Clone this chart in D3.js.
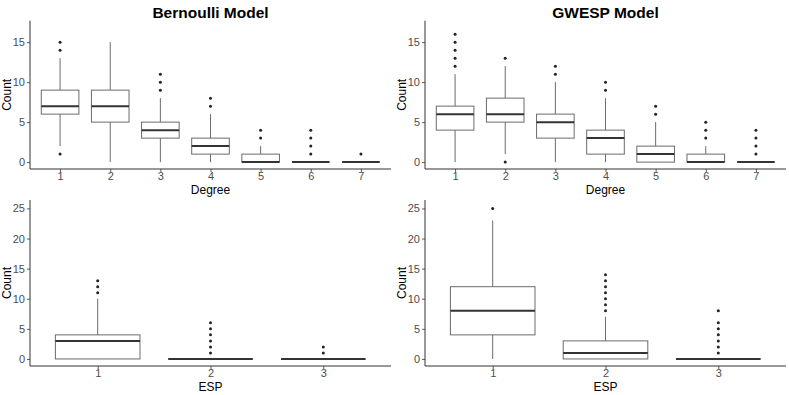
<!DOCTYPE html>
<html>
<head>
<meta charset="utf-8">
<script src="https://cdn.jsdelivr.net/npm/d3@7"></script>
<style>
  html, body { margin: 0; padding: 0; background: #fff; }
  svg { display: block; }
  text { font-family: "Liberation Sans", Arial, Helvetica, sans-serif; }
</style>
</head>
<body>
<svg id="chart" width="789" height="395"></svg>
<script>
// ---- Data (five-number summaries + outliers) ----
const degreeCategories = ["1", "2", "3", "4", "5", "6", "7"];
const espCategories = ["1", "2", "3"];

// Bernoulli model, degree distribution
const bernDegQ1      = [6, 5, 3, 1, 0, 0, 0];
const bernDegMedian  = [7, 7, 4, 2, 0, 0, 0];
const bernDegQ3      = [9, 9, 5, 3, 1, 0, 0];
const bernDegLow     = [2, 0, 0, 0, 0, 0, 0];
const bernDegHigh    = [13, 15, 8, 6, 2, 0, 0];
const bernDegOutliers = [[1, 14, 15], [], [9, 10, 11], [7, 8], [3, 4], [1, 2, 3, 4], [1]];

// GWESP model, degree distribution
const gwespDegQ1     = [4, 5, 3, 1, 0, 0, 0];
const gwespDegMedian = [6, 6, 5, 3, 1, 0, 0];
const gwespDegQ3     = [7, 8, 6, 4, 2, 1, 0];
const gwespDegLow    = [0, 1, 0, 0, 0, 0, 0];
const gwespDegHigh   = [11, 12, 10, 8, 5, 2, 0];
const gwespDegOutliers = [[12, 13, 14, 15, 16], [0, 13], [11, 12], [9, 10], [6, 7], [3, 4, 5], [1, 2, 3, 4]];

// Bernoulli model, ESP distribution
const bernEspQ1      = [0, 0, 0];
const bernEspMedian  = [3, 0, 0];
const bernEspQ3      = [4, 0, 0];
const bernEspLow     = [0, 0, 0];
const bernEspHigh    = [10, 0, 0];
const bernEspOutliers = [[11, 12, 13], [1, 2, 3, 4, 5, 6], [1, 2]];

// GWESP model, ESP distribution
const gwespEspQ1     = [4, 0, 0];
const gwespEspMedian = [8, 1, 0];
const gwespEspQ3     = [12, 3, 0];
const gwespEspLow    = [0, 0, 0];
const gwespEspHigh   = [23, 7, 0];
const gwespEspOutliers = [[25], [8, 9, 10, 11, 12, 13, 14], [1, 2, 3, 4, 5, 6, 8]];

const degreeTicks = [0, 5, 10, 15];
const espTicks = [0, 5, 10, 15, 20, 25];

const titles = ["Bernoulli Model", "GWESP Model"];

// ---- Build panel tables ----
function build(cats, q1, med, q3, lo, hi, out) {
  return cats.map((c, i) => ({cat: c, q1: q1[i], med: med[i], q3: q3[i], lo: lo[i], hi: hi[i], out: out[i]}));
}

const panels = [
  {data: build(degreeCategories, bernDegQ1, bernDegMedian, bernDegQ3, bernDegLow, bernDegHigh, bernDegOutliers),
   cats: degreeCategories, ticks: degreeTicks, domain: [-0.86, 17.68], xLabel: "Degree", title: titles[0],
   x0: 30, x1: 391, y0: 20.7, y1: 169},
  {data: build(degreeCategories, gwespDegQ1, gwespDegMedian, gwespDegQ3, gwespDegLow, gwespDegHigh, gwespDegOutliers),
   cats: degreeCategories, ticks: degreeTicks, domain: [-0.86, 17.68], xLabel: "Degree", title: titles[1],
   x0: 425, x1: 786, y0: 20.7, y1: 169},
  {data: build(espCategories, bernEspQ1, bernEspMedian, bernEspQ3, bernEspLow, bernEspHigh, bernEspOutliers),
   cats: espCategories, ticks: espTicks, domain: [-1.17, 26.4], xLabel: "ESP", title: null,
   x0: 30, x1: 391, y0: 200, y1: 366},
  {data: build(espCategories, gwespEspQ1, gwespEspMedian, gwespEspQ3, gwespEspLow, gwespEspHigh, gwespEspOutliers),
   cats: espCategories, ticks: espTicks, domain: [-1.17, 26.4], xLabel: "ESP", title: null,
   x0: 425, x1: 786, y0: 200, y1: 366}
];

const svg = d3.select("#chart");
const axisColor = "#333333";
const tickTextColor = "#4D4D4D";

panels.forEach(p => {
  const g = svg.append("g");
  // discrete scale with ggplot-like 0.6 expansion on each side
  const n = p.cats.length;
  const lin = d3.scaleLinear().domain([0.4, n + 0.6]).range([p.x0, p.x1]);
  const x = d3.scalePoint().domain(p.cats).range([lin(1), lin(n)]);
  const step = lin(2) - lin(1);
  const bw = 0.75 * step;
  const y = d3.scaleLinear().domain(p.domain).range([p.y1, p.y0]);

  // boxes
  const box = g.selectAll(".box").data(p.data).enter().append("g");
  box.append("line")
    .attr("x1", d => x(d.cat)).attr("x2", d => x(d.cat))
    .attr("y1", d => y(d.q3)).attr("y2", d => y(d.hi))
    .attr("stroke", "#6b6b6b").attr("stroke-width", 1);
  box.append("line")
    .attr("x1", d => x(d.cat)).attr("x2", d => x(d.cat))
    .attr("y1", d => y(d.q1)).attr("y2", d => y(d.lo))
    .attr("stroke", "#6b6b6b").attr("stroke-width", 1);
  box.append("rect")
    .attr("x", d => x(d.cat) - bw / 2).attr("width", bw)
    .attr("y", d => y(d.q3)).attr("height", d => Math.max(0, y(d.q1) - y(d.q3)))
    .attr("fill", "#fff").attr("stroke", "#6b6b6b").attr("stroke-width", 1);
  box.append("line")
    .attr("x1", d => x(d.cat) - bw / 2).attr("x2", d => x(d.cat) + bw / 2)
    .attr("y1", d => y(d.med)).attr("y2", d => y(d.med))
    .attr("stroke", "#333333").attr("stroke-width", 2);
  box.each(function(d) {
    d3.select(this).selectAll("circle").data(d.out).enter().append("circle")
      .attr("cx", x(d.cat)).attr("cy", v => y(v)).attr("r", 1.5).attr("fill", "#222");
  });

  // y axis
  const yAxis = d3.axisLeft(y).tickValues(p.ticks).tickSize(3).tickPadding(2).tickSizeOuter(0);
  const ya = g.append("g").attr("transform", `translate(${p.x0},0)`).call(yAxis);
  ya.select(".domain").attr("stroke", axisColor).attr("stroke-width", 1).attr("d", `M0,${p.y0}V${p.y1}`);
  ya.selectAll(".tick line").attr("stroke", axisColor).attr("stroke-width", 0.8);
  ya.selectAll(".tick text").attr("fill", tickTextColor).attr("font-size", 11)
    .attr("font-family", "Liberation Sans, Arial, sans-serif");

  // x axis
  const xAxis = d3.axisBottom(x).tickSize(3).tickPadding(0.5).tickSizeOuter(0);
  const xa = g.append("g").attr("transform", `translate(0,${p.y1})`).call(xAxis);
  xa.select(".domain").attr("stroke", axisColor).attr("stroke-width", 1).attr("d", `M${p.x0},0H${p.x1}`);
  xa.selectAll(".tick line").attr("stroke", axisColor).attr("stroke-width", 0.8);
  xa.selectAll(".tick text").attr("fill", tickTextColor).attr("font-size", 11)
    .attr("font-family", "Liberation Sans, Arial, sans-serif");

  // axis titles
  g.append("text")
    .attr("x", (p.x0 + p.x1) / 2).attr("y", p.y1 + 25)
    .attr("text-anchor", "middle").attr("font-size", 12).attr("fill", "#000")
    .text(p.xLabel);
  g.append("text")
    .attr("transform", `translate(${p.x0 - 19},${(p.y0 + p.y1) / 2}) rotate(-90)`)
    .attr("text-anchor", "middle").attr("font-size", 12).attr("fill", "#000")
    .text("Count");

  if (p.title) {
    g.append("text")
      .attr("x", (p.x0 + p.x1) / 2).attr("y", 18)
      .attr("text-anchor", "middle").attr("font-size", 15.5).attr("font-weight", "bold").attr("fill", "#000")
      .text(p.title);
  }
});
</script>
</body>
</html>
